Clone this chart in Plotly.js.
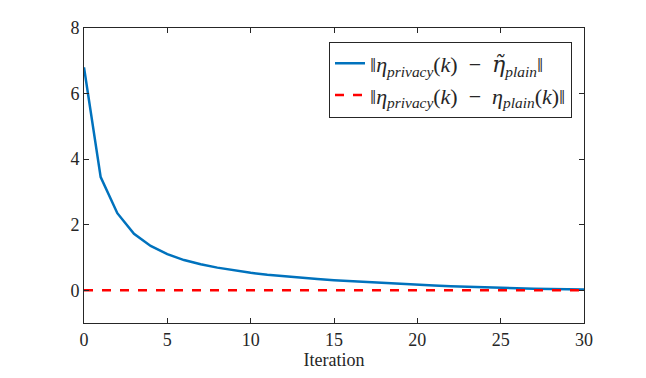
<!DOCTYPE html>
<html>
<head>
<meta charset="utf-8">
<script src="https://cdn.plot.ly/plotly-3.0.1.min.js"></script>
<style>
body { margin: 0; background: #fff; }
#plot1 { width: 646px; height: 378px; }
</style>
</head>
<body>
<div id="plot1"></div>
<script>
// Iterations and the two error norms
var iteration = [0,1,2,3,4,5,6,7,8,9,10,11,12,13,14,15,16,17,18,19,20,21,22,23,24,25,26,27,28,29,30];
var errTilde = [6.8,3.45,2.35,1.72,1.35,1.1,0.92,0.79,0.69,0.6,0.53,0.47,0.42,0.38,0.34,0.305,0.275,0.245,0.215,0.19,0.165,0.145,0.125,0.105,0.085,0.07,0.055,0.045,0.035,0.025,0.02];
var errPlain = [0,0,0,0,0,0,0,0,0,0,0,0,0,0,0,0,0,0,0,0,0,0,0,0,0,0,0,0,0,0,0];

var name1 = '‖<i>η</i><sub><i>privacy</i></sub>(<i>k</i>)  −  <span style="font-family:DejaVu Serif"><i>η̃</i></span><sub><i>plain</i></sub>‖';
var name2 = '‖<i>η</i><sub><i>privacy</i></sub>(<i>k</i>)  −  <i>η</i><sub><i>plain</i></sub>(<i>k</i>)‖';

var xticks = [0,5,10,15,20,25,30];
var yticks = [0,2,4,6,8];

var axisColor = '#262626';
var font = 'Liberation Serif, Times New Roman, serif';

function drawPlot1() {
	var trace1 = {
		x: iteration,
		y: errTilde,
		name: name1,
		mode: 'lines',
		type: 'scatter',
		line: {color: '#0072BD', width: 2.5}
	};
	var trace2 = {
		x: iteration,
		y: errPlain,
		name: name2,
		mode: 'lines',
		type: 'scatter',
		line: {color: '#FF0000', width: 2.5, dash: 'dash'}
	};
	var layout = {
		width: 646,
		height: 378,
		margin: {l: 84, r: 62, t: 28, b: 55},
		paper_bgcolor: '#fff',
		plot_bgcolor: '#fff',
		font: {family: font, size: 16, color: axisColor},
		showlegend: true,
		legend: {
			x: 0.976, y: 0.954, xanchor: 'right', yanchor: 'top',
			bordercolor: axisColor, borderwidth: 1, bgcolor: '#fff',
			font: {family: font, size: 22, color: axisColor},
			itemwidth: 30,
			tracegroupgap: 0
		},
		xaxis: {
			range: [0, 30],
			tickvals: xticks,
			ticks: 'inside', ticklen: 5, tickcolor: axisColor,
			showline: true, linecolor: axisColor, linewidth: 1, mirror: 'ticks',
			showgrid: false, zeroline: false,
			tickfont: {family: font, size: 18, color: axisColor},
			title: {text: 'Iteration', font: {family: font, size: 18, color: axisColor}, standoff: 4}
		},
		yaxis: {
			range: [-1, 8],
			tickvals: yticks,
			ticks: 'inside', ticklen: 5, tickcolor: axisColor,
			showline: true, linecolor: axisColor, linewidth: 1, mirror: 'ticks',
			showgrid: false, zeroline: false,
			tickfont: {family: font, size: 18, color: axisColor}
		}
	};
	Plotly.newPlot('plot1', [trace1, trace2], layout, {displayModeBar: false, staticPlot: true});
}

drawPlot1();
</script>
</body>
</html>
